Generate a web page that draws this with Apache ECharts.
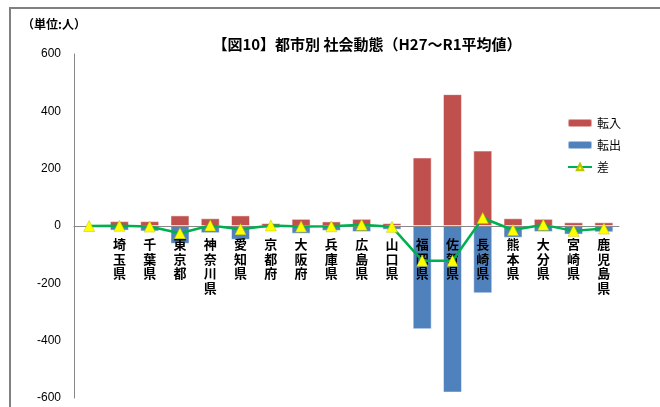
<!DOCTYPE html>
<html>
<head>
<meta charset="utf-8">
<script src="https://cdn.jsdelivr.net/npm/echarts@6/dist/echarts.min.js"></script>
<style>
html, body { margin: 0; padding: 0; background: #fff; }
#main { width: 660px; height: 407px; }
</style>
</head>
<body>
<div id="main"></div>
<script>
var categories = ['', '埼玉県', '千葉県', '東京都', '神奈川県', '愛知県', '京都府', '大阪府', '兵庫県',
	'広島県', '山口県', '福岡県', '佐賀県', '長崎県', '熊本県', '大分県', '宮崎県', '鹿児島県'];
var tennyu = [0, 17, 17, 37, 27, 37, 10, 25, 16, 25, 10, 239, 460, 263, 27, 25, 13, 13];
var tenshutsu = [0, -16, -19, -62, -25, -48, -8, -27, -17, -21, -13, -360, -581, -235, -41, -21, -30, -22];
var sa = [0, 1, -2, -25, 2, -11, 2, -2, -1, 4, -3, -121, -121, 28, -14, 4, -17, -9];
var yTicks = [-600, -400, -200, 0, 200, 400, 600];

var font = '"Noto Sans CJK JP", sans-serif';
var myChart = echarts.init(document.getElementById('main'));

var option = {
	animation: false,
	textStyle: { fontFamily: font },
	title: {
		text: '【図10】都市別 社会動態（H27～R1平均値）',
		left: 362,
		textAlign: 'center',
		top: 32,
		textStyle: { fontSize: 15, fontWeight: 'bold', color: '#000', fontFamily: font }
	},
	graphic: [
		{
			type: 'polyline',
			shape: { points: [[10, 420], [10, 8], [670, 8]] },
			style: { stroke: '#808080', lineWidth: 2, fill: null }
		},
		{
			type: 'text',
			left: 22,
			top: 18,
			style: { text: '（単位:人）', font: 'bold 12px ' + font, fill: '#000' }
		}
	],
	legend: {
		orient: 'vertical',
		left: 562,
		top: 112,
		itemWidth: 24,
		itemHeight: 8,
		itemGap: 10,
		textStyle: { fontSize: 12, color: '#000' },
		data: ['転入', '転出', '差']
	},
	grid: { left: 74, right: 41, top: 54, bottom: 9, containLabel: false, outerBoundsMode: 'none' },
	xAxis: {
		type: 'category',
		data: categories,
		offset: -172,
		z: 4,
		axisTick: { show: false },
		axisLine: { onZero: false, lineStyle: { color: '#888888' } },
		axisLabel: {
			interval: 0,
			hideOverlap: false,
			margin: 11,
			fontSize: 13,
			fontWeight: 'bold',
			lineHeight: 14.5,
			color: '#000',
			verticalAlign: 'top',
			formatter: function (v) { return v.split('').join('\n'); }
		}
	},
	yAxis: {
		type: 'value',
		min: yTicks[0],
		max: yTicks[yTicks.length - 1],
		interval: 200,
		splitLine: { show: false },
		axisTick: { show: false },
		axisLine: { show: true, lineStyle: { color: '#888888' } },
		axisLabel: { margin: 13, fontSize: 12, color: '#000', fontFamily: '"Liberation Sans", Arial, sans-serif' }
	},
	series: [
		{
			name: '転入',
			type: 'bar',
			stack: 'a',
			barWidth: 19,
			data: tennyu,
			itemStyle: { color: '#C0504D', borderColor: 'rgba(255,255,255,0.5)', borderWidth: 1 }
		},
		{
			name: '転出',
			type: 'bar',
			stack: 'a',
			barWidth: 19,
			data: tenshutsu,
			itemStyle: { color: '#4F81BD', borderColor: 'rgba(255,255,255,0.5)', borderWidth: 1 }
		},
		{
			name: '差',
			type: 'line',
			data: sa,
			z: 5,
			symbol: 'triangle',
			symbolSize: 11,
			lineStyle: { color: '#00B050', width: 2.5 },
			itemStyle: { color: '#FFFF00', borderColor: '#B8C400', borderWidth: 0.5 }
		}
	]
};

myChart.setOption(option);
window.onresize = myChart.resize;
</script>
</body>
</html>
